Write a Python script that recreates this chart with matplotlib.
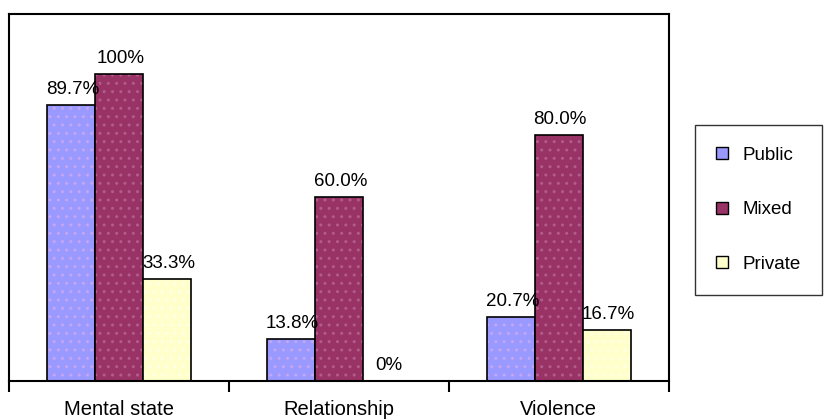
import numpy as np
import matplotlib
matplotlib.use('Agg')
import matplotlib.pyplot as plt
from matplotlib.patches import Patch

plt.rcParams['font.family'] = ['Liberation Sans', 'DejaVu Sans']
plt.rcParams['hatch.linewidth'] = 1.0

# data
categories = ['Mental state', 'Relationship', 'Violence']
series = ['Public', 'Mixed', 'Private']
public = [89.7, 13.8, 20.7]
mixed = [100, 60.0, 80.0]
private = [33.3, 0, 16.7]
labels = [['89.7%', '13.8%', '20.7%'],
          ['100%', '60.0%', '80.0%'],
          ['33.3%', '0%', '16.7%']]

colors = ['#9999ff', '#993366', '#ffffcc']
dots = ['#c6a6f2', '#b25c8c', '#ffffe6']

fig = plt.figure(figsize=(8.36, 4.2), dpi=100)
ax = fig.add_axes([0.011, 0.093, 0.789, 0.874])

x = np.arange(len(categories))
w = 0.218
for i, (vals, c, d) in enumerate(zip([public, mixed, private], colors, dots)):
    pos = x + (i - 1) * w
    # dotted fill, then the black outline on top
    ax.bar(pos, vals, w, color=c, edgecolor=d, hatch='..', linewidth=0)
    ax.bar(pos, vals, w, color='none', edgecolor='black', linewidth=1.2)
    for p, v, t in zip(pos, vals, labels[i]):
        ax.annotate(t, (p, v), xytext=(1, 5), textcoords='offset points',
                    ha='center', va='bottom', fontsize=13.5)

ax.set_xlim(-0.5, 2.5)
ax.set_ylim(0, 119.5)
ax.set_yticks([])
ax.set_xticks(x)
ax.set_xticklabels(categories, fontsize=14.5)
ax.set_xticks([-0.5, 0.5, 1.5, 2.5], minor=True)
ax.tick_params(axis='x', which='major', length=0, pad=14)
ax.tick_params(axis='x', which='minor', length=8, width=1.5)
for s in ax.spines.values():
    s.set_linewidth(1.5)

handles = [Patch(facecolor=c, edgecolor='black', linewidth=1.0, label=s)
           for c, s in zip(colors, series)]
fig.legend(handles=handles, loc='center left', bbox_to_anchor=(0.831, 0.50),
           frameon=True, fancybox=False, edgecolor='black', fontsize=13.5,
           handlelength=0.6, handleheight=0.6, labelspacing=2.0,
           borderpad=1.15, handletextpad=0.8, borderaxespad=0)

fig.savefig('out.png', dpi=100)
